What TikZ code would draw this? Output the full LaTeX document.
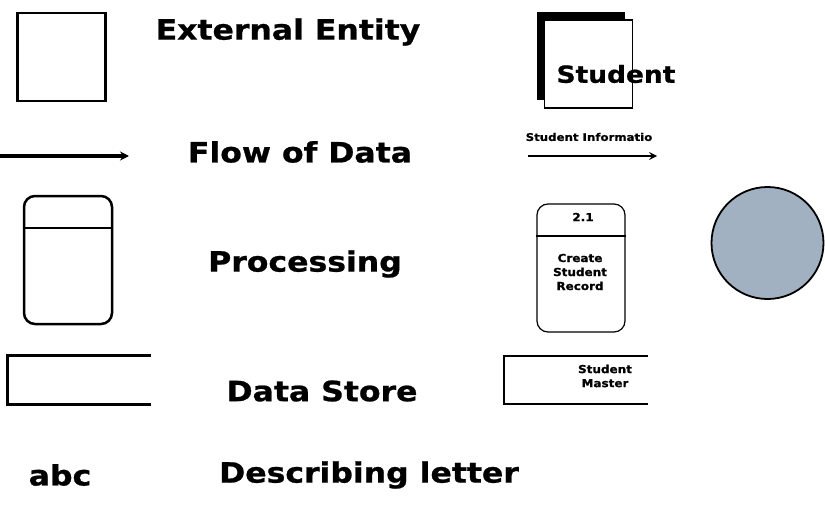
\documentclass[tikz,border=0pt]{standalone}
\usepackage{fontspec}
\setmainfont{DejaVu Sans}
\newfontfamily\heavy{DejaVu Sans}[BoldFeatures={FakeBold=0.8}]
\usetikzlibrary{arrows.meta,calc}
\definecolor{bubble}{HTML}{A2B1C1}
\newcommand{\wide}[1]{\scalebox{1.125}[1]{#1}}
\newcommand{\swide}[1]{\scalebox{1.09}[1]{#1}}
\begin{document}
\begin{tikzpicture}[x=1pt,y=-1pt,
  biglabel/.style={font=\fontsize{28}{32}\heavy\bfseries, inner sep=0pt, anchor=center},
  smalllabel/.style={font=\fontsize{11}{14}\heavy\bfseries, inner sep=0pt, align=center},
  entitybox/.style={draw, line width=2.5pt, minimum width=88pt, minimum height=88pt, inner sep=0pt},
  procbox/.style={draw, rounded corners=11pt, minimum width=88pt, minimum height=128pt, inner sep=0pt},
  flow/.style={line width=3.2pt, -{Stealth[length=9pt,width=9pt,inset=3pt]}},
]
\useasboundingbox (0,0) rectangle (825,511);

% External entity
\node[entitybox] (ee) at (61.5,57) {};
\node[biglabel] (eelbl) at (288,32) {\wide{External Entity}};
\node[fill=black, minimum width=88pt, minimum height=88pt, inner sep=0pt] (shadow) at (580.5,56) {};
\node[draw, fill=white, line width=1.2pt, minimum width=88pt, minimum height=88pt, inner sep=0pt] (stu) at (588.5,64) {};
\node[biglabel, font=\fontsize{23.5}{28}\heavy\bfseries] (stulbl) at (616,74) {\wide{Student}};

% Flow of data
\coordinate (f1) at (0,156);
\coordinate (f2) at (129,156);
\draw[flow] (f1) -- (f2);
\node[biglabel] (fdlbl) at (300,152) {\wide{Flow of Data}};
\node[smalllabel, font=\fontsize{10.5}{14}\heavy\bfseries] (silbl) at (589,137) {\scalebox{1.12}[1]{Student Informatio}};
\coordinate (s1) at (528,156);
\coordinate (s2) at (657,156);
\draw[line width=2.8pt, -{Stealth[length=8pt,width=8pt,inset=3pt]}] (s1) -- (s2);

% Processing
\node[procbox, line width=2.5pt] (pr) at (68,260) {};
\draw[line width=1.3pt] ($(pr.west |- 0,228)$) -- ($(pr.east |- 0,228)$);
\node[biglabel] (prlbl) at (305,264) {\wide{Processing}};
\node[procbox, line width=1.2pt] (p21) at (581,268) {};
\draw[line width=1.2pt] ($(p21.west |- 0,236)$) -- ($(p21.east |- 0,236)$);
\node[smalllabel] (p21num) at (583,217) {\swide{2.1}};
\node[smalllabel] (p21txt) at (580,272) {\swide{Create}\\\swide{Student}\\\swide{Record}};

% Bubble
\node[circle, draw, line width=1.8pt, fill=bubble, minimum size=112pt, inner sep=0pt] (bub) at (767.5,243) {};

% Data store
\node[minimum width=143pt, minimum height=48pt, inner sep=0pt] (ds) at (79.5,380) {};
\draw[line width=3.2pt] (ds.north east) -- (ds.north west) -- (ds.south west) -- (ds.south east);
\node[biglabel] (dslbl) at (322,391) {\wide{Data Store}};
\node[minimum width=144pt, minimum height=48pt, inner sep=0pt] (sm) at (576,380) {};
\draw[line width=2.2pt] (sm.north east) -- (sm.north west) -- (sm.south west) -- (sm.south east);
\node[smalllabel] (smlbl) at (605,376) {\swide{Student}\\\swide{Master}};

% Describing letter
\node[biglabel] (abc) at (60,475) {\wide{abc}};
\node[biglabel] (dllbl) at (369,475) {\wide{Describing letter}};
\end{tikzpicture}
\end{document}
